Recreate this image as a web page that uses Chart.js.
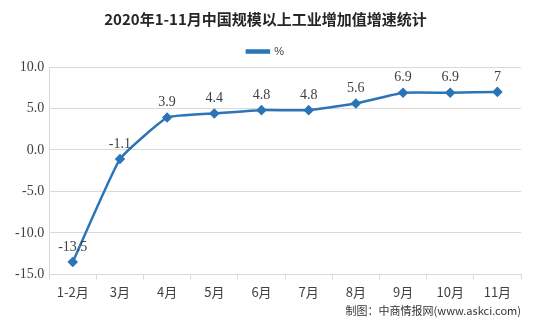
<!DOCTYPE html>
<html>
<head>
<meta charset="utf-8">
<script src="https://cdn.jsdelivr.net/npm/chart.js@4/dist/chart.umd.min.js"></script>
<style>
  html, body { margin: 0; padding: 0; background: #fff; }
  #wrap { position: relative; width: 543px; height: 323px; }
  #source { position: absolute; right: 22px; top: 302px; font: 11px "Noto Sans CJK SC", sans-serif; color: #333; }
</style>
</head>
<body>
<div id="wrap">
  <canvas id="growthChart" width="543" height="323"></canvas>
  <div id="source">制图：中商情报网(www.askci.com)</div>
</div>
<script>
const months = ['1-2月', '3月', '4月', '5月', '6月', '7月', '8月', '9月', '10月', '11月'];
const growth = [-13.5, -1.1, 3.9, 4.4, 4.8, 4.8, 5.6, 6.9, 6.9, 7];
const growthLabels = ['-13.5', '-1.1', '3.9', '4.4', '4.8', '4.8', '5.6', '6.9', '6.9', '7'];

// draws the value above each point
const pointLabels = {
    id: 'pointLabels',
    afterDatasetsDraw(chart) {
        const ctx = chart.ctx;
        const meta = chart.getDatasetMeta(0);
        ctx.save();
        ctx.font = '14px "Liberation Serif", serif';
        ctx.fillStyle = '#404040';
        ctx.textAlign = 'center';
        ctx.textBaseline = 'bottom';
        meta.data.forEach(function(pt, i) {
            ctx.fillText(growthLabels[i], pt.x, pt.y - 8);
        });
        ctx.restore();
    }
};

document.addEventListener('DOMContentLoaded', function() {
    const ctx = document.getElementById('growthChart').getContext('2d');
    new Chart(ctx, {
        type: 'line',
        data: {
            labels: months,
            datasets: [{
                label: '%',
                data: growth,
                borderColor: '#2a75b8',
                backgroundColor: '#2a75b8',
                borderWidth: 2.5,
                pointStyle: 'rectRot',
                pointRadius: 3.5,
                tension: 0.12
            }]
        },
        options: {
            responsive: false,
            animation: false,
            layout: { padding: { left: 10, right: 22, top: 6, bottom: 18 } },
            scales: {
                x: {
                    offset: true,
                    grid: { display: true, drawOnChartArea: false, offset: true, color: '#d9d9d9', tickLength: 5 },
                    border: { color: '#d9d9d9' },
                    ticks: { color: '#404040', font: { size: 13, family: '"Noto Sans CJK SC", serif' }, padding: 5 }
                },
                y: {
                    min: -15,
                    max: 10,
                    ticks: {
                        stepSize: 5,
                        color: '#404040',
                        padding: 5,
                        font: { size: 14, family: '"Liberation Serif", serif' },
                        callback: function(v) { return v.toFixed(1); }
                    },
                    grid: { color: '#d9d9d9', drawTicks: false },
                    border: { color: '#d9d9d9' }
                }
            },
            plugins: {
                title: {
                    display: true,
                    text: '2020年1-11月中国规模以上工业增加值增速统计',
                    color: '#262626',
                    font: { size: 15, weight: 'bold', family: '"Noto Sans CJK SC", sans-serif' },
                    padding: { top: 4, bottom: 6 }
                },
                legend: {
                    position: 'top',
                    labels: {
                        color: '#404040',
                        font: { size: 11 },
                        boxWidth: 22,
                        boxHeight: 2,
                        padding: 12
                    }
                },
                tooltip: { enabled: false }
            }
        },
        plugins: [pointLabels]
    });
});
</script>
</body>
</html>
